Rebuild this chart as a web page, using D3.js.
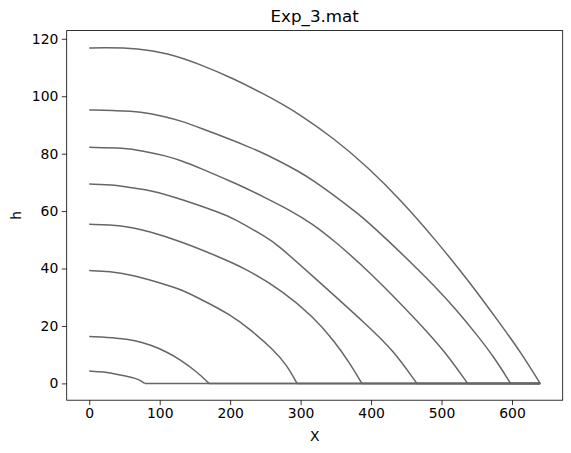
<!DOCTYPE html>
<html>
<head>
<meta charset="utf-8">
<script src="https://cdn.jsdelivr.net/npm/d3@7"></script>
<style>
  body { margin: 0; background: #fff; }
  text { font-family: "DejaVu Sans", sans-serif; fill: #000; }
</style>
</head>
<body>
<div id="vis"></div>
<script>
// Frame constants
const FRAME_WIDTH = 571;
const FRAME_HEIGHT = 453;
const MARGINS = {left: 66.7, right: 8.3, top: 30.6, bottom: 52.8};

// Data: one X and one h array per profile
const x1 = [0, 20, 70, 110, 157, 204, 251, 275, 299, 346, 396, 443, 490, 537, 585, 612, 640];
const h1 = [116.8, 117.0, 116.7, 115.1, 111.2, 106.2, 100.4, 97.1, 93.6, 85.6, 75.2, 63.6, 50.4, 36.2, 20.2, 11.0, 0];

const x2 = [0, 40, 72, 110, 130, 157, 204, 224, 251, 298, 320, 347, 384, 398, 422, 460, 493, 520, 550, 575, 598, 640];
const h2 = [95.2, 95.0, 94.7, 92.8, 91.4, 89.0, 84.6, 82.6, 79.8, 73.8, 70.3, 65.6, 58.6, 55.6, 50.2, 41.3, 33.2, 25.9, 17.0, 9.0, 0, 0];

const x3 = [0, 50, 75, 110, 130, 157, 204, 224, 251, 285, 318, 346, 398, 469, 505, 537, 640];
const h3 = [82.2, 82.0, 81.0, 79.2, 77.6, 75.0, 70.0, 67.8, 64.5, 60.3, 55.4, 50.0, 38.9, 20.9, 11.0, 0, 0];

const x4 = [0, 39, 60, 86, 133, 187, 200, 255, 266, 318, 398, 431, 465, 640];
const h4 = [69.4, 69.2, 68.0, 67.4, 64.0, 59.3, 58.1, 50.4, 48.5, 37.2, 19.5, 11.6, 0, 0];

const x5 = [0, 46, 86, 129, 180, 224, 275, 318, 347, 370, 387, 640];
const h5 = [55.4, 55.2, 52.9, 49.5, 44.5, 39.8, 32.0, 23.2, 15.0, 7.0, 0, 0];

const x6 = [0, 29, 62, 110, 129, 157, 200, 230, 262, 280, 295, 640];
const h6 = [39.3, 39.0, 37.8, 34.3, 32.8, 29.5, 24.0, 18.5, 11.6, 6.5, 0, 0];

const x7 = [0, 42, 65, 87, 110, 129, 153, 170, 640];
const h7 = [16.3, 15.8, 15.0, 13.4, 11.0, 8.3, 4.0, 0, 0];

const x8 = [0, 20, 44, 68, 74, 79, 640];
const h8 = [4.3, 4.1, 2.9, 1.7, 0.8, 0, 0];

const X_SERIES = [x1, x2, x3, x4, x5, x6, x7, x8];
const H_SERIES = [h1, h2, h3, h4, h5, h6, h7, h8];

// Tick labels
const X_TICKS = [0, 100, 200, 300, 400, 500, 600];
const Y_TICKS = [0, 20, 40, 60, 80, 100, 120];

const TITLE = "Exp_3.mat";

// Vis size
const VIS_WIDTH = FRAME_WIDTH - MARGINS.left - MARGINS.right;
const VIS_HEIGHT = FRAME_HEIGHT - MARGINS.top - MARGINS.bottom;

const FRAME = d3.select("#vis")
  .append("svg")
    .attr("width", FRAME_WIDTH)
    .attr("height", FRAME_HEIGHT);

// matplotlib-like 5% margins
const allX = X_SERIES.flat();
const allH = H_SERIES.flat();
const [xMin, xMax] = d3.extent(allX);
const [hMin, hMax] = d3.extent(allH);
const xPad = (xMax - xMin) * 0.05;
const hPad = (hMax - hMin) * 0.05;

const X_SCALE = d3.scaleLinear()
  .domain([xMin - xPad, xMax + xPad])
  .range([0, VIS_WIDTH]);

const Y_SCALE = d3.scaleLinear()
  .domain([hMin - hPad, hMax + hPad])
  .range([VIS_HEIGHT, 0]);

const plot = FRAME.append("g")
  .attr("transform", "translate(" + MARGINS.left + "," + MARGINS.top + ")");

// Profiles: smooth part down to the first h = 0, then the flat tail
const smooth = d3.line()
  .x(d => X_SCALE(d[0]))
  .y(d => Y_SCALE(d[1]))
  .curve(d3.curveBasis);

const straight = d3.line()
  .x(d => X_SCALE(d[0]))
  .y(d => Y_SCALE(d[1]));

const profiles = X_SERIES.map((xs, i) => xs.map((x, j) => [x, H_SERIES[i][j]]));

profiles.forEach(pts => {
  const k = pts.findIndex(p => p[1] === 0);
  const head = pts.slice(0, k + 1);
  const tail = pts.slice(k);
  [[head, smooth], [tail, straight]].forEach(([seg, gen]) => {
    if (seg.length < 2) return;
    plot.append("path")
      .attr("class", "profile")
      .attr("d", gen(seg))
      .attr("fill", "none")
      .attr("stroke", "#666666")
      .attr("stroke-width", 1.5)
      .attr("stroke-linejoin", "round");
  });
});

// Axes
const xAxis = plot.append("g")
  .attr("transform", "translate(0," + VIS_HEIGHT + ")")
  .call(d3.axisBottom(X_SCALE).tickValues(X_TICKS).tickSize(4.9).tickPadding(3.5));

const yAxis = plot.append("g")
  .call(d3.axisLeft(Y_SCALE).tickValues(Y_TICKS).tickSize(4.9).tickPadding(3.5));

[xAxis, yAxis].forEach(ax => {
  ax.select(".domain").remove();
  ax.selectAll("line").attr("stroke", "#000").attr("stroke-width", 0.8);
  ax.selectAll("text")
    .attr("font-family", "DejaVu Sans, sans-serif")
    .attr("font-size", "13.9px")
    .attr("fill", "#000");
});

// Frame box
plot.append("rect")
  .attr("x", 0)
  .attr("y", 0)
  .attr("width", VIS_WIDTH)
  .attr("height", VIS_HEIGHT)
  .attr("fill", "none")
  .attr("stroke", "#000")
  .attr("stroke-width", 0.8);

// Title and axis labels
FRAME.append("text")
  .attr("x", MARGINS.left + VIS_WIDTH / 2)
  .attr("y", MARGINS.top - 8.3)
  .attr("text-anchor", "middle")
  .attr("font-size", "16.7px")
  .text(TITLE);

FRAME.append("text")
  .attr("x", MARGINS.left + VIS_WIDTH / 2)
  .attr("y", 440.5)
  .attr("text-anchor", "middle")
  .attr("font-size", "13.9px")
  .text("X");

FRAME.append("text")
  .attr("transform", "translate(21," + (MARGINS.top + VIS_HEIGHT / 2) + ") rotate(-90)")
  .attr("text-anchor", "middle")
  .attr("font-size", "13.9px")
  .text("h");
</script>
</body>
</html>
